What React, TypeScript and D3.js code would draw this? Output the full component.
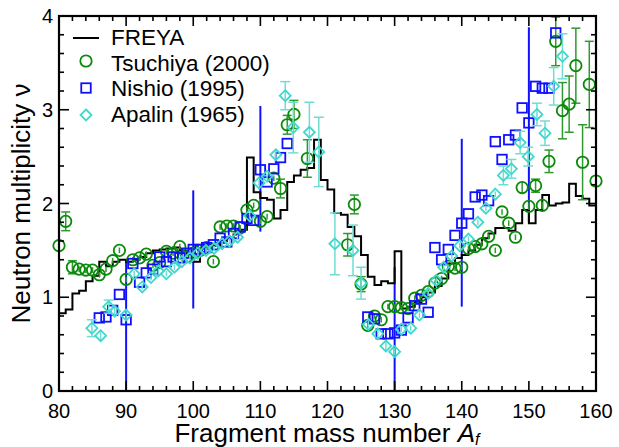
import React from "react";
import * as d3 from "d3";

// ---------- data ----------
const freyaMass = d3.range(80, 160);
const freyaNu = [
  0.83, 0.87, 1.04, 1.07, 1.17, 1.23, 1.38, 1.33, 1.38, 1.40,
  1.38, 1.40, 1.43, 1.47, 1.50, 1.51, 1.52, 1.53, 1.50, 1.45,
  1.38, 1.52, 1.57, 1.55, 1.60, 1.63, 1.67, 1.72, 2.49, 2.12,
  2.06, 2.04, 1.84, 1.93, 2.23, 2.30, 2.36, 2.38, 2.68, 2.25,
  2.15, 1.90, 1.88, 1.75, 1.65, 1.45, 1.22, 1.13, 1.17, 1.15,
  1.49, 0.88, 0.90, 0.95, 1.00, 1.05, 1.12, 1.20, 1.36, 1.42,
  1.45, 1.50, 1.56, 1.63, 1.68, 1.74, 1.74, 1.71, 1.79, 1.93,
  1.79, 1.93, 2.09, 1.98, 2.00, 2.01, 2.21, 2.08, 2.05, 1.98,
];

const tsuMass = [
  80, 81, 82, 83, 84, 85, 86, 87, 88, 89, 90, 91, 92, 93, 94, 95, 96, 97, 98, 99,
  100, 101, 102, 103, 104, 105, 106, 107, 108, 109, 110, 111, 112, 113, 114, 115, 117,
  123, 124, 125, 126, 127, 128, 129, 130, 131, 132, 133, 134, 135, 136, 137, 138, 139,
  140, 141, 142, 143, 144, 145, 146, 147, 148, 149, 150, 151, 152, 153, 154, 155, 156,
  157, 158, 159, 160,
];
const tsuNu = [
  1.55, 1.81, 1.32, 1.30, 1.29, 1.29, 1.24, 1.30, 1.39, 1.50, 1.19, 1.40, 1.42, 1.46, 1.34, 1.37, 1.49, 1.47, 1.54, 1.43,
  1.47, 1.50, 1.53, 1.38, 1.75, 1.76, 1.76, 1.74, 1.93, 1.98, 1.81, 1.86, 2.27, 2.16, 2.84, 2.95, 2.48,
  1.56, 1.99, 1.14, 0.70, 0.80, 0.76, 0.90, 0.90, 0.89, 0.88, 0.99, 1.02, 1.06, 1.15, 1.20, 1.33, 1.31,
  1.32, 1.52, 1.54, 1.57, 1.65, 1.50, 1.91, 1.79, 1.64, 2.17, 1.97, 2.19, 1.98, 2.45, 3.73, 2.99, 3.06,
  3.47, 2.44, 3.27, 2.24,
];
const tsuErr = [
  0.04, 0.10, 0.07, 0.03, 0.03, 0.03, 0.03, 0.03, 0.03, 0.03, 0.03, 0.03, 0.03, 0.03, 0.03, 0.03, 0.03, 0.03, 0.03, 0.03,
  0.03, 0.03, 0.03, 0.03, 0.03, 0.03, 0.03, 0.03, 0.03, 0.03, 0.03, 0.03, 0.03, 0.10, 0.10, 0.15, 0.20,
  0.12, 0.10, 0.08, 0.03, 0.03, 0.03, 0.03, 0.03, 0.03, 0.03, 0.03, 0.03, 0.03, 0.03, 0.03, 0.03, 0.03,
  0.03, 0.03, 0.03, 0.03, 0.03, 0.03, 0.03, 0.03, 0.03, 0.06, 0.04, 0.07, 0.04, 0.12, 0.26, 0.30, 0.30,
  0.40, 0.40, 0.46, 0.04,
];

const nisMass = [
  86, 87, 88, 89, 90, 91, 92, 93, 94, 95, 96, 97, 98, 99, 100, 101, 102, 103, 104, 105,
  106, 107, 108, 109, 110, 111, 112, 113, 114,
  126, 127, 128, 129, 130, 131, 132, 133, 134, 135, 136, 137, 138, 139, 140, 141, 142,
  143, 144, 145, 146, 147, 148, 149, 150, 151, 152, 153, 154,
];
const nisNu = [
  0.78, 0.79, 0.86, 1.03, 0.76, 1.36, 1.16, 1.26, 1.30, 1.43, 1.38, 1.43, 1.42, 1.47, 1.51, 1.51, 1.53, 1.56, 1.63, 1.59,
  1.68, 1.75, 1.84, 1.82, 2.36, 2.23, 2.37, 2.49, 2.64,
  0.79, 0.77, 0.61, 0.61, 0.62, 0.65, 0.78, 0.91, 0.98, 0.84, 1.53, 1.40, 1.51, 1.66, 1.79, 1.89, 2.07,
  2.09, 2.03, 2.66, 2.47, 2.68, 2.73, 3.02, 2.86, 3.25, 3.23, 3.23, 3.82,
];

const apaMass = [
  84.9, 86.2, 87.4, 88.3, 90.0, 91.2, 92.4, 93.7, 94.8, 96.0, 97.2, 98.3, 99.5, 100.7, 101.9,
  103.1, 104.3, 105.4, 106.6, 108.4, 109.8, 111.0, 112.3, 113.7, 114.9, 117.3, 118.7, 121.1,
  123.8, 125.0, 126.1, 127.5, 128.7, 130.0, 131.0, 132.4, 133.7, 135.0, 136.2, 137.3, 138.5,
  139.7, 141.0, 142.4, 143.6, 145.0, 146.2, 147.4, 148.7, 149.9, 151.2, 152.4, 153.7, 155.0,
];
const apaNu = [
  0.67, 0.59, 0.90, 0.85, 0.81, 1.25, 1.11, 1.21, 1.28, 1.25, 1.32, 1.38, 1.42, 1.47, 1.50,
  1.52, 1.57, 1.60, 1.64, 1.87, 2.22, 2.29, 2.52, 3.15, 2.81, 2.76, 2.55, 1.57,
  1.50, 1.15, 0.71, 0.61, 0.48, 0.42, 0.66, 0.67, 0.81, 1.04, 1.18, 1.32, 1.44,
  1.55, 1.62, 1.80, 1.95, 2.10, 2.30, 2.37, 2.65, 2.50, 2.95, 2.75, 3.25, 3.57,
];
const apaErr = [
  0.09, 0.06, 0.07, 0.05, 0.06, 0.03, 0.03, 0.03, 0.03, 0.03, 0.03, 0.03, 0.03, 0.03, 0.03,
  0.03, 0.03, 0.03, 0.03, 0.03, 0.03, 0.03, 0.05, 0.15, 0.27, 0.32, 0.37, 0.33,
  0.27, 0.17, 0.04, 0.04, 0.05, 0.04, 0.03, 0.03, 0.03, 0.03, 0.03, 0.03, 0.03,
  0.03, 0.03, 0.03, 0.03, 0.03, 0.10, 0.10, 0.12, 0.10, 0.12, 0.13, 0.20, 0.24,
];

const blueMass = [90, 100, 110, 130, 140, 150];
const blueLo = [0, 0.88, 1.70, 0, 0.90, 1.80];
const blueHi = [1.40, 2.14, 3.04, 1.32, 2.69, 3.88];

const xTickLabels = [80, 90, 100, 110, 120, 130, 140, 150, 160];
const yTickLabels = [0, 1, 2, 3, 4];
const legendLabels = ["FREYA", "Tsuchiya (2000)", "Nishio (1995)", "Apalin (1965)"];

// ---------- styles ----------
const W = 619;
const H = 447;
const FONT = "'Liberation Sans', Arial, Helvetica, sans-serif";
const GREEN = "#0a8a0a";
const GREEN_ERR = "#2e9a2e";
const BLUE = "#1010ff";
const CYAN = "#40d8cc";
const CYAN_ERR = "#70ddd4";

export default function App() {
  const x = d3.scaleLinear().domain([80, 160]).range([59, 596]);
  const y = d3.scaleLinear().domain([0, 4]).range([391, 16]);

  const stepPts: [number, number][] = freyaMass.map((m, i) => [m, freyaNu[i]]);
  stepPts.push([160, freyaNu[freyaNu.length - 1]]);
  const stepLine = d3
    .line<[number, number]>()
    .x((d) => x(d[0]))
    .y((d) => y(d[1]))
    .curve(d3.curveStepAfter);

  const xMinor = d3.range(80, 161, 2);
  const yMinor = d3.range(0, 4.001, 0.2);
  const majLen = 10;
  const minLen = 5;
  const [x0, x1] = x.range();
  const [yb, yt] = y.range();

  const R = 5.7; // circle radius
  const S = 9.5; // square side
  const D = 5.5; // diamond half-diagonal

  const errBar = (cx: number, v: number, e: number, color: string, key: string, r: number, cap: number) => {
    const yTop = y(v + e);
    const yBot = y(v - e);
    const showCap = yBot - yTop > 2 * r + 1;
    return (
      <g key={key} stroke={color} strokeWidth={1.5}>
        <line x1={cx} x2={cx} y1={yTop} y2={yBot} />
        {showCap && <line x1={cx - cap} x2={cx + cap} y1={yTop} y2={yTop} />}
        {showCap && <line x1={cx - cap} x2={cx + cap} y1={yBot} y2={yBot} />}
      </g>
    );
  };

  const diamond = (cx: number, cy: number) =>
    `M${cx},${cy - D}L${cx + D},${cy}L${cx},${cy + D}L${cx - D},${cy}Z`;

  return (
    <svg
      width={W}
      height={H}
      style={{ position: "absolute", left: 0, top: 0, background: "#fff" }}
      fontFamily={FONT}
    >
      <rect x={0} y={0} width={W} height={H} fill="#fff" />

      {/* blue vertical lines */}
      {blueMass.map((m, i) => (
        <line
          key={"bl" + i}
          x1={x(m)}
          x2={x(m)}
          y1={y(blueLo[i])}
          y2={y(blueHi[i])}
          stroke={BLUE}
          strokeWidth={2}
        />
      ))}

      {/* FREYA */}
      <path d={stepLine(stepPts) || ""} fill="none" stroke="#000" strokeWidth={2} />

      {/* Tsuchiya */}
      {tsuMass.map((m, i) => errBar(x(m), tsuNu[i], tsuErr[i], GREEN_ERR, "te" + i, R, 4.5))}
      {tsuMass.map((m, i) => (
        <circle key={"tc" + i} cx={x(m)} cy={y(tsuNu[i])} r={R} fill="none" stroke={GREEN} strokeWidth={1.8} />
      ))}

      {/* Nishio */}
      {nisMass.map((m, i) => (
        <rect
          key={"ns" + i}
          x={x(m) - S / 2}
          y={y(nisNu[i]) - S / 2}
          width={S}
          height={S}
          fill="none"
          stroke={BLUE}
          strokeWidth={1.8}
        />
      ))}

      {/* Apalin */}
      {apaMass.map((m, i) => errBar(x(m), apaNu[i], apaErr[i], CYAN_ERR, "ae" + i, D, 5))}
      {apaMass.map((m, i) => (
        <path key={"ad" + i} d={diamond(x(m), y(apaNu[i]))} fill="none" stroke={CYAN} strokeWidth={1.8} />
      ))}

      {/* frame */}
      <rect x={x0} y={yt} width={x1 - x0} height={yb - yt} fill="none" stroke="#000" strokeWidth={2.2} />

      {/* x ticks */}
      {xMinor.map((t) => {
        const major = t % 10 === 0;
        const len = major ? majLen : minLen;
        return (
          <g key={"xt" + t} stroke="#000" strokeWidth={1.6}>
            <line x1={x(t)} x2={x(t)} y1={yb} y2={yb - len} />
            <line x1={x(t)} x2={x(t)} y1={yt} y2={yt + len} />
          </g>
        );
      })}
      {/* y ticks */}
      {yMinor.map((t, i) => {
        const major = i % 5 === 0;
        const len = major ? majLen : minLen;
        return (
          <g key={"yt" + i} stroke="#000" strokeWidth={1.6}>
            <line x1={x0} x2={x0 + len} y1={y(t)} y2={y(t)} />
            <line x1={x1} x2={x1 - len} y1={y(t)} y2={y(t)} />
          </g>
        );
      })}

      {/* tick labels */}
      {xTickLabels.map((t) => (
        <text key={"xl" + t} x={x(t)} y={418} textAnchor="middle" fontSize={20} fill="#000">
          {t}
        </text>
      ))}
      {yTickLabels.map((t) => (
        <text key={"yl" + t} x={53} y={y(t) + 7} textAnchor="end" fontSize={20} fill="#000">
          {t}
        </text>
      ))}

      {/* axis titles */}
      <text x={327} y={442} textAnchor="middle" fontSize={26} fill="#000">
        Fragment mass number <tspan fontStyle="italic">A</tspan>
        <tspan fontStyle="italic" fontSize={16} dy={3}>f</tspan>
      </text>
      <text
        transform={`translate(30,${(yb + yt) / 2}) rotate(-90)`}
        textAnchor="middle"
        fontSize={26}
        fill="#000"
      >
        Neutron multiplicity ν
      </text>

      {/* legend */}
      <line x1={73} x2={99} y1={38} y2={38} stroke="#000" strokeWidth={2} />
      <circle cx={86} cy={61} r={R} fill="none" stroke={GREEN} strokeWidth={1.8} />
      <rect x={86 - S / 2} y={88 - S / 2} width={S} height={S} fill="none" stroke={BLUE} strokeWidth={1.8} />
      <path d={diamond(86, 115)} fill="none" stroke={CYAN} strokeWidth={1.8} />
      {legendLabels.map((l, i) => (
        <text key={"lg" + i} x={111} y={45 + i * 25.7} fontSize={22.5} fill="#000">
          {l}
        </text>
      ))}
    </svg>
  );
}
